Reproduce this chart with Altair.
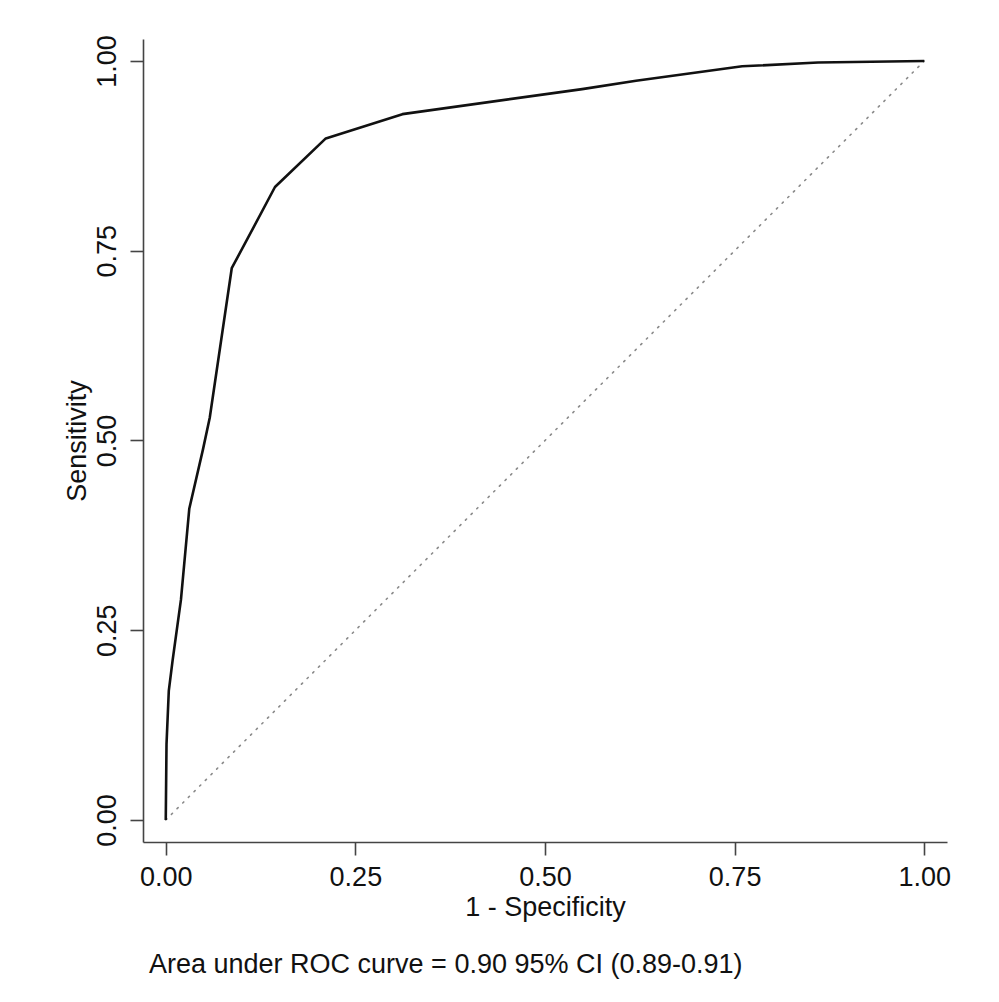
import altair as alt
import pandas as pd

# ROC curve points
fpr = [0.0, 0.001, 0.004, 0.009, 0.020, 0.031, 0.049, 0.058, 0.087, 0.144, 0.211,
       0.312, 0.549, 0.620, 0.760, 0.860, 1.0]
tpr = [0.0, 0.100, 0.170, 0.210, 0.290, 0.410, 0.488, 0.530, 0.727, 0.834, 0.898,
       0.930, 0.963, 0.974, 0.993, 0.998, 1.0]

diag_x = [0.0, 1.0]
diag_y = [0.0, 1.0]

tick_values = [0.0, 0.25, 0.5, 0.75, 1.0]
caption = "Area under ROC curve = 0.90 95% CI (0.89-0.91)"

roc = pd.DataFrame({"fpr": fpr, "tpr": tpr, "order": list(range(len(fpr)))})
diag = pd.DataFrame({"fpr": diag_x, "tpr": diag_y})

FONT = "Liberation Sans"
AXCOL = "#444444"
TXT = "#111111"
FS = 27

xscale = alt.Scale(domain=[-0.03, 1.03], nice=False, zero=False)
yscale = alt.Scale(domain=[-0.029, 1.029], nice=False, zero=False)

xaxis = alt.Axis(
    title="1 - Specificity", values=tick_values, format=".2f",
    grid=False, tickSize=13, labelPadding=9, titlePadding=4,
    domainColor=AXCOL, tickColor=AXCOL, domainWidth=1.6, tickWidth=1.6,
    labelFont=FONT, titleFont=FONT, labelFontSize=FS, titleFontSize=FS,
    labelColor=TXT, titleColor=TXT, titleFontWeight="normal",
)
yaxis = alt.Axis(
    title="Sensitivity", values=tick_values, format=".2f",
    grid=False, tickSize=13, labelPadding=9, titlePadding=2,
    labelAngle=270, labelAlign="center", labelBaseline="bottom",
    domainColor=AXCOL, tickColor=AXCOL, domainWidth=1.6, tickWidth=1.6,
    labelFont=FONT, titleFont=FONT, labelFontSize=FS, titleFontSize=FS,
    labelColor=TXT, titleColor=TXT, titleFontWeight="normal",
)

diag_layer = alt.Chart(diag).mark_line(
    color="#8a8a8a", strokeWidth=1.6, strokeDash=[1.5, 6.5], strokeCap="round"
).encode(
    x=alt.X("fpr:Q", scale=xscale, axis=xaxis),
    y=alt.Y("tpr:Q", scale=yscale, axis=yaxis),
)

roc_layer = alt.Chart(roc).mark_line(
    color="#111111", strokeWidth=2.6, strokeJoin="round"
).encode(
    x=alt.X("fpr:Q", scale=xscale, axis=xaxis),
    y=alt.Y("tpr:Q", scale=yscale, axis=yaxis),
    order="order:Q",
)

chart = alt.layer(diag_layer, roc_layer).properties(
    width=804,
    height=803,
    background="white",
    autosize=alt.AutoSizeParams(type="none"),
    padding={"left": 135, "top": 31, "right": 44, "bottom": 150},
    title=alt.TitleParams(
        text=caption, orient="bottom", anchor="start", frame="group", dx=6, offset=32,
        font=FONT, fontSize=FS, fontWeight="normal", color=TXT,
    ),
).configure_view(
    stroke=None
)

chart.save("out.html", embed_options={"renderer": "svg", "actions": False})
